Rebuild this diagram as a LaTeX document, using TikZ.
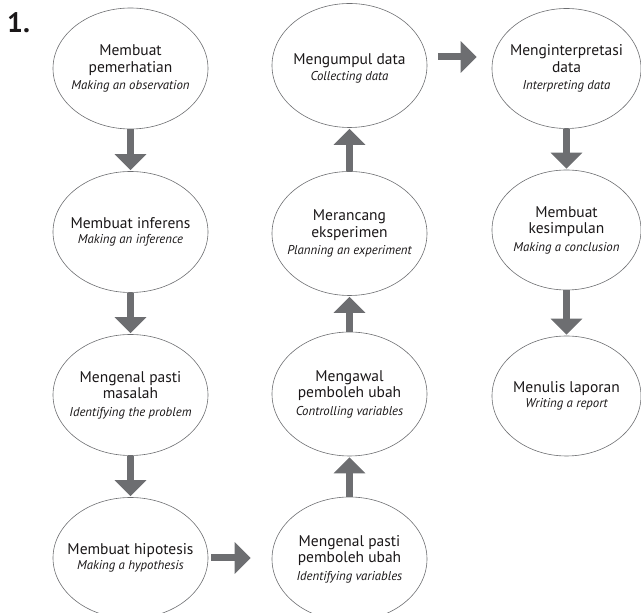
\documentclass[tikz,border=0pt]{standalone}
\usepackage{fontspec}
\setmainfont{PT Sans}
\usetikzlibrary{arrows.meta,shapes.geometric}
\definecolor{arrgray}{HTML}{6D6E71}
\definecolor{txtcol}{HTML}{1A1718}
\definecolor{edgecol}{HTML}{6D6E71}
\tikzset{
  el/.style={ellipse, draw=edgecol, line width=0.6pt, inner sep=0pt, minimum width=155pt, minimum height=121pt},
  elb/.style={el, minimum height=124pt},
  elc/.style={el, minimum width=149pt, minimum height=120pt},
  txt/.style={align=center, text=txtcol, inner sep=0pt, font=\fontsize{15.5}{16.5}\selectfont},
  arr/.style={draw=arrgray, line width=7pt, -{Triangle[width=31pt,length=16pt]}, shorten >=1pt},
  num/.style={anchor=base west, inner sep=0pt, text=txtcol, font=\fontsize{28}{28}\selectfont\bfseries}
}
\newcommand{\eng}[1]{{\fontsize{12.8}{16.5}\selectfont\itshape #1}}
\begin{document}
\begin{tikzpicture}[x=1pt,y=1pt]
\useasboundingbox (0,0) rectangle (641,613);
\clip (0,0) rectangle (641,613);
\node[num] (n1) at (7,580) {1.};
% column 1
\node[el] (obs) at (130.5,544.5) {};
\node[el] (inf) at (130.5,381) {};
\node[el] (prob) at (130.5,218) {};
\node[el] (hyp) at (130.5,55) {};
% column 2
\node[elb] (var) at (349.5,54) {};
\node[elb] (ctrl) at (349.5,219) {};
\node[elb] (plan) at (349.5,379.5) {};
\node[elb] (coll) at (349.5,547.5) {};
% column 3
\node[elc] (interp) at (566.5,544.5) {};
\node[elc] (concl) at (566.5,383) {};
\node[elc] (rep) at (566.5,217) {};
% texts
\node[txt] (obs-t) at (obs) {Membuat\\pemerhatian\\[1pt]\eng{Making an observation}};
\node[txt] (inf-t) at (inf) {Membuat inferens\\[-1pt]\eng{Making an inference}};
\node[txt] (prob-t) at (prob) {Mengenal pasti\\masalah\\[1pt]\eng{Identifying the problem}};
\node[txt] (hyp-t) at (hyp) {Membuat hipotesis\\[-1pt]\eng{Making a hypothesis}};
\node[txt] (var-t) at (var) {Mengenal pasti\\pemboleh ubah\\[1pt]\eng{Identifying variables}};
\node[txt] (ctrl-t) at (ctrl) {Mengawal\\pemboleh ubah\\[1pt]\eng{Controlling variables}};
\node[txt] (plan-t) at (plan) {Merancang\\eksperimen\\[1pt]\eng{Planning an experiment}};
\node[txt] (coll-t) at ([yshift=-3pt]coll.center) {Mengumpul data\\[-1pt]\eng{Collecting data}};
\node[txt] (interp-t) at (interp) {Menginterpretasi\\data\\[1pt]\eng{Interpreting data}};
\node[txt] (concl-t) at (concl) {Membuat\\kesimpulan\\[1pt]\eng{Making a conclusion}};
\node[txt] (rep-t) at (rep) {Menulis laporan\\[-1pt]\eng{Writing a report}};
% arrows
\draw[arr] (obs.south) -- (inf.north);
\draw[arr] (inf.south) -- (prob.north);
\draw[arr] (prob.south) -- (hyp.north);
\draw[arr] ([xshift=3pt]hyp.east) -- ([xshift=-20pt]var.west |- hyp.east);
\draw[arr] (var.north) -- (ctrl.south);
\draw[arr] (ctrl.north) -- (plan.south);
\draw[arr] (plan.north) -- (coll.south);
\coordinate (ta) at ([shift={(10.5pt,8.5pt)}]coll.east);
\draw[arr] (ta) -- ([xshift=-14pt]interp.west |- ta);
\draw[arr] (interp.south) -- (concl.north);
\draw[arr] (concl.south) -- (rep.north);
\end{tikzpicture}
\end{document}
